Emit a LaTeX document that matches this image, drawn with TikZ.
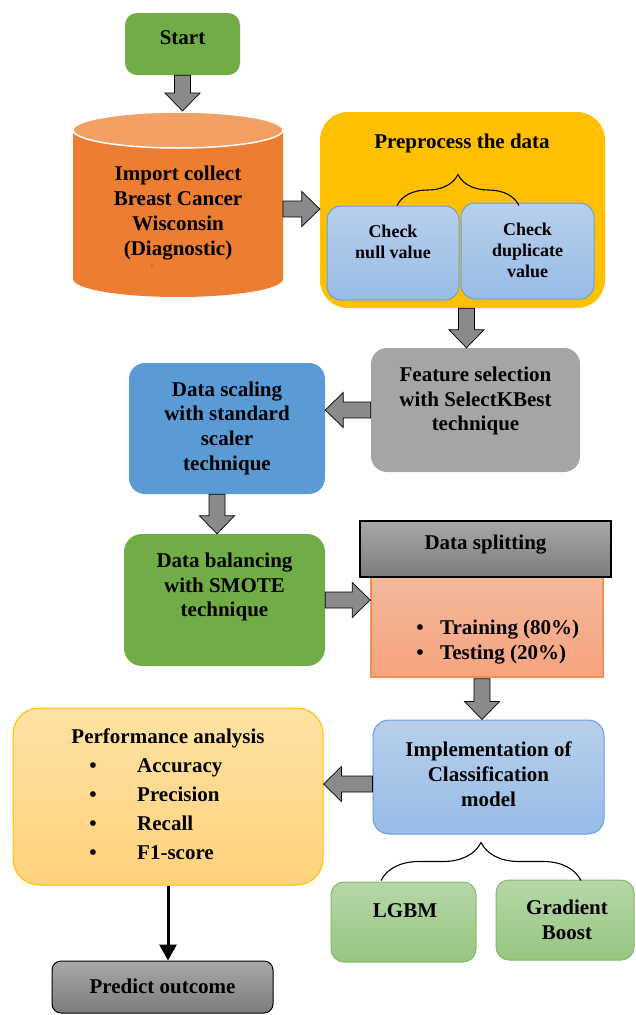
\documentclass[tikz,border=0pt]{standalone}
\usepackage{fontspec}
\setmainfont{Liberation Serif}
\usetikzlibrary{arrows.meta,calc,decorations.pathreplacing}
\definecolor{FlowGreen}{HTML}{70AD47}
\definecolor{FlowOrange}{HTML}{ED7D31}
\definecolor{FlowOrangeTop}{HTML}{F2A064}
\definecolor{FlowGold}{HTML}{FFC000}
\definecolor{FlowBlue}{HTML}{5B9BD5}
\definecolor{FlowGray}{HTML}{A5A5A5}
\definecolor{FlowArrow}{HTML}{8A8A8A}
\definecolor{LightBlueTop}{HTML}{B8CFEC}
\definecolor{LightBlueBot}{HTML}{97BCE6}
\definecolor{BlueEdge}{HTML}{6A9FD6}
\definecolor{SalmonTop}{HTML}{F4B89C}
\definecolor{SalmonBot}{HTML}{F6A37E}
\definecolor{PerfTop}{HTML}{FFE2A3}
\definecolor{PerfBot}{HTML}{FFD27C}
\definecolor{LeafTop}{HTML}{B6D7A8}
\definecolor{LeafBot}{HTML}{97C680}
\definecolor{LeafEdge}{HTML}{84B96A}
\definecolor{SplitTop}{HTML}{A8A8A8}
\definecolor{SplitBot}{HTML}{7C7C7C}
\newcommand{\blockarrow}[2]{%
  \coordinate (neck) at ($(#2)!18pt!(#1)$);
  \draw[blockarr] ($(#1)!8pt!90:(#2)$) -- ($(neck)!8pt!90:(#2)$)
    -- ($(neck)!17.5pt!90:(#2)$) -- (#2)
    -- ($(neck)!17.5pt!-90:(#2)$) -- ($(neck)!8pt!-90:(#2)$)
    -- ($(#1)!8pt!-90:(#2)$) -- cycle;
}

\begin{document}
\begin{tikzpicture}[x=1pt,y=-1pt,
  lbl/.style={font=\bfseries\fontsize{21}{24.7}\selectfont,align=center,inner sep=0pt},
  smalllbl/.style={font=\bfseries\fontsize{18}{21}\selectfont,align=center,inner sep=0pt},
  flowbox/.style={rounded corners=#1,inner sep=0pt},
  blockarr/.style={draw=black,line width=0.7pt,fill=FlowArrow,line join=miter},
  leaf/.style={flowbox=13pt,top color=LeafTop,bottom color=LeafBot,draw=LeafEdge,line width=1pt},
  skyblue/.style={flowbox=#1,top color=LightBlueTop,bottom color=LightBlueBot,draw=BlueEdge,line width=1pt}]
\useasboundingbox (0,0) rectangle (635,1015);
% start and data source
\node[flowbox=12pt,fill=FlowGreen,minimum width=115,minimum height=62] (start) at (182.5,44) {};
\node[lbl] (start-t) at (182.5,38) {Start};
\fill[FlowOrange] (73,130) -- (73,279) arc[start angle=180,end angle=360,x radius=105pt,y radius=18pt] -- (283,130) -- cycle;
\filldraw[fill=FlowOrangeTop,draw=white,line width=1.5pt] (178,130) ellipse[x radius=105pt,y radius=18pt];
\node[lbl] (db) at (178,213) {Import collect\\Breast Cancer\\Wisconsin\\(Diagnostic)};
\node[font=\fontsize{6}{6}\selectfont,inner sep=0pt] (db-dash) at (152,267) {-};
\coordinate (dbtop) at (178,111);
\coordinate (dbeast) at (283,209);
% preprocessing
\node[flowbox=28pt,fill=FlowGold,minimum width=285,minimum height=196] (prep) at (462.5,210) {};
\node[lbl] (prep-t) at (462,143) {Preprocess the data};
\node[skyblue=14pt,minimum width=132,minimum height=94] (null) at (393,253) {};
\node[smalllbl] (null-t) at (393,242) {Check\\null value};
\node[skyblue=14pt,minimum width=133,minimum height=96] (dup) at (527.5,251) {};
\node[smalllbl] (dup-t) at (527.5,250) {Check\\duplicate\\value};
\draw[decorate,decoration={brace,amplitude=31pt},line width=1.1pt] ($(null.north)+(4,0)$) -- ($(null.north)+(126,0)$);
% feature selection and scaling
\node[flowbox=16pt,fill=FlowGray,minimum width=209,minimum height=124] (feat) at (475.5,410) {};
\node[lbl] (feat-t) at (475.5,401) {Feature selection\\with SelectKBest\\technique};
\node[flowbox=16pt,fill=FlowBlue,minimum width=196,minimum height=131] (scale) at (227,428.5) {};
\node[lbl] (scale-t) at (227,428) {Data scaling\\with standard\\scaler\\technique};
% balancing and splitting
\node[flowbox=18pt,fill=FlowGreen,minimum width=201,minimum height=132] (bal) at (224.5,600) {};
\node[lbl] (bal-t) at (224.5,587) {Data balancing\\with SMOTE\\technique};
\node[draw=FlowOrange!85,line width=1.5pt,top color=SalmonTop,bottom color=SalmonBot,minimum width=232,minimum height=100,inner sep=0pt] (train) at (487,627) {};
\node[draw=black,line width=1.2pt,top color=SplitTop,bottom color=SplitBot,minimum width=251,minimum height=56,inner sep=0pt] (split) at (485.5,549) {};
\node[lbl] (split-t) at (485.5,545) {Data splitting};
\foreach \i/\item in {0/Training (80\%),1/Testing (20\%)} {
  \node[lbl,anchor=base] (train-b\i) at (420,{634+25*\i}) {\textbullet};
  \node[lbl,anchor=base west] (train-i\i) at (440,{634+25*\i}) {\item};
}
% model and evaluation
\node[skyblue=16pt,minimum width=231,minimum height=114] (impl) at (488.5,777) {};
\node[lbl] (impl-t) at (488.5,774) {Implementation of\\Classification\\model};
\node[leaf,minimum width=145,minimum height=80] (lgbm) at (403.5,922) {};
\node[lbl] (lgbm-t) at (405,911) {LGBM};
\node[leaf,minimum width=138,minimum height=80] (gb) at (565,920) {};
\node[lbl] (gb-t) at (567,920) {Gradient\\Boost};
\draw[decorate,decoration={brace,amplitude=38pt},line width=1.1pt] ($(lgbm.north)+(-22.5,-1)$) -- ($(lgbm.north)+(177.5,-1)$);
\node[flowbox=26pt,top color=PerfTop,bottom color=PerfBot,draw=FlowGold,line width=1pt,minimum width=310,minimum height=177] (perf) at (168,796.5) {};
\node[lbl] (perf-t) at (168,738) {Performance analysis};
\foreach \i/\item in {0/Accuracy,1/Precision,2/Recall,3/F1-score} {
  \node[lbl,anchor=base] (perf-b\i) at (93,{772+29.3*\i}) {\textbullet};
  \node[lbl,anchor=base west] (perf-i\i) at (137,{772+29.3*\i}) {\item};
}
\node[flowbox=9pt,top color=SplitTop,bottom color=SplitBot,draw=black,line width=1pt,minimum width=221,minimum height=52] (predict) at (162.5,987) {};
\node[lbl] (predict-t) at (162.5,986) {Predict outcome};
% block arrows
\coordinate (a1) at (start.south |- dbtop);
\blockarrow{start.south}{a1}
\coordinate (a2) at (dbeast -| prep.west);
\blockarrow{dbeast}{a2}
\coordinate (a3a) at ($(prep.south)+(4,0)$);
\coordinate (a3b) at (a3a |- feat.north);
\blockarrow{a3a}{a3b}
\coordinate (a4) at (scale.east |- feat.west);
\blockarrow{feat.west}{a4}
\coordinate (a5a) at ($(scale.south)+(-10,0)$);
\coordinate (a5b) at (a5a |- bal.north);
\blockarrow{a5a}{a5b}
\coordinate (a6) at (bal.east -| train.west);
\blockarrow{bal.east}{a6}
\coordinate (a7a) at ($(train.south)+(-5,1)$);
\coordinate (a7b) at (a7a |- impl.north);
\blockarrow{a7a}{a7b}
\coordinate (a8a) at ($(impl.west)+(0,7)$);
\coordinate (a8b) at (a8a -| perf.east);
\blockarrow{a8a}{a8b}
\draw[line width=3pt,-{Triangle[length=16pt,width=17pt]}] (perf.south) -- (perf.south |- predict.north);
\end{tikzpicture}
\end{document}
